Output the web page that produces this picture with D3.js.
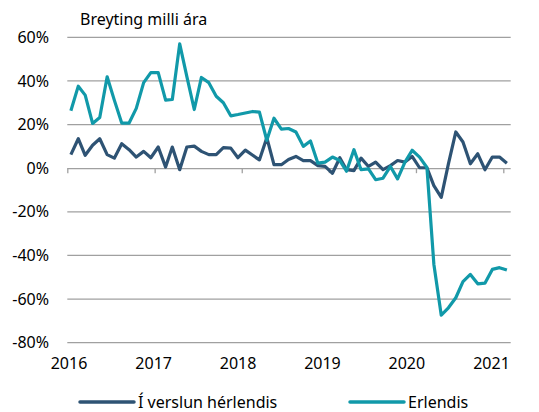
<!DOCTYPE html>
<html>
<head>
<meta charset="utf-8">
<script src="https://cdn.jsdelivr.net/npm/d3@7"></script>
<style>
  body { margin: 0; background: #fff; }
  svg { display: block; font-family: 'Noto Sans', 'Open Sans', sans-serif; }
</style>
</head>
<body>
<svg width="539" height="412"></svg>
<script>
// monthly, Jan 2016 - Jan 2021, year-on-year change in %
var startMonth = '2016-01';
var domestic = [
  6.2, 13.5, 5.9, 10.5, 13.5, 6.2, 4.6, 11.2, 8.5, 5.1, 7.7, 4.8,
  9.7, 0.5, 9.7, -0.7, 9.7, 10.1, 7.7, 6.2, 6.2, 9.4, 9.2, 4.8,
  8.3, 5.9, 3.8, 14.0, 1.6, 1.6, 4.0, 5.4, 3.5, 3.5, 1.2, 0.8,
  -2.3, 4.8, -0.7, -1.1, 4.6, 0.8, 2.8, -0.7, 1.2, 3.5, 2.8, 5.4,
  0.2, 0.2, -8.0, -13.4, 2.0, 16.6, 12.0, 2.0, 6.6, -0.7, 5.1, 5.1,
  2.3
];
var abroad = [
  26.3, 37.6, 33.5, 20.5, 23.2, 41.9, 31.2, 20.7, 20.7, 27.4, 39.2, 43.8,
  43.8, 31.2, 31.5, 57.0, 42.0, 26.9, 41.6, 39.2, 33.0, 30.0, 24.0, 24.6,
  25.3, 26.0, 25.7, 12.8, 22.9, 17.9, 18.2, 16.6, 10.0, 12.5, 2.3, 2.8,
  5.1, 3.5, -1.4, 8.5, -0.7, -0.3, -5.3, -4.6, 0.8, -4.9, 2.8, 8.2,
  5.1, 0.3, -44.0, -67.4, -64.0, -59.4, -52.0, -48.7, -53.0, -52.7, -46.4, -45.6,
  -46.7
];
var yTicks = [60, 40, 20, 0, -20, -40, -60, -80];
var yearLabels = ['2016', '2017', '2018', '2019', '2020', '2021'];
var seriesNames = ['Í verslun hérlendis', 'Erlendis'];
var colors = ['#2e5374', '#1199a9'];

var svg = d3.select('svg');
var parseMonth = d3.timeParse('%Y-%m-%d');
var first = parseMonth(startMonth + '-16');

function toPoints(values) {
  return values.map(function(v, i) {
    return { date: d3.timeMonth.offset(first, i), value: v };
  });
}

var x = d3.scaleTime()
  .domain([new Date(2016, 0, 1), new Date(2021, 0, 1)])
  .range([67.3, 503.3]);
var y = d3.scaleLinear().domain([-80, 60]).range([342.7, 37.3]);
// Excel squeezes the year labels a bit compared with the tick marks
var xLabel = d3.scaleTime()
  .domain([new Date(2016, 0, 1), new Date(2021, 0, 1)])
  .range([68.5, 491]);

var gridEnd = x(new Date(2021, 1, 1));

// gridlines
svg.append('g')
  .selectAll('line')
  .data(yTicks.filter(function(d) { return d !== 0; }))
  .enter().append('line')
  .attr('x1', x(new Date(2016, 0, 1)))
  .attr('x2', gridEnd)
  .attr('y1', function(d) { return y(d); })
  .attr('y2', function(d) { return y(d); })
  .attr('stroke', '#a0a0a0')
  .attr('stroke-width', 1.3);

// y axis labels
var yAxis = svg.append('g')
  .attr('transform', 'translate(49,0)')
  .call(d3.axisLeft(y).tickValues(yTicks).tickSize(0).tickPadding(0)
    .tickFormat(function(d) { return d + '%'; }));
yAxis.select('.domain').remove();
yAxis.selectAll('text')
  .attr('fill', '#000')
  .style('font-size', '16px')
  .style('font-family', "'Noto Sans', sans-serif");

// zero axis with year ticks
var xAxis = svg.append('g')
  .attr('transform', 'translate(0,' + y(0) + ')')
  .call(d3.axisBottom(x).ticks(d3.timeYear.every(1)).tickSize(5).tickFormat(''));
xAxis.select('.domain')
  .attr('d', 'M' + x(new Date(2016, 0, 1)) + ',0.5H' + gridEnd)
  .attr('stroke', '#a0a0a0')
  .attr('stroke-width', 1.3);
xAxis.selectAll('.tick line').attr('stroke', '#a0a0a0').attr('stroke-width', 1.3);

// year labels
var labelAxis = svg.append('g')
  .attr('transform', 'translate(0,358)')
  .call(d3.axisBottom(xLabel).ticks(d3.timeYear.every(1)).tickSize(0).tickPadding(0)
    .tickFormat(function(d, i) { return yearLabels[i]; }));
labelAxis.select('.domain').remove();
labelAxis.selectAll('text')
  .attr('fill', '#000')
  .attr('dy', '0.71em')
  .style('font-size', '16px')
  .style('font-family', "'Noto Sans', sans-serif");

// lines
var line = d3.line()
  .x(function(d) { return x(d.date); })
  .y(function(d) { return y(d.value); });

[domestic, abroad].forEach(function(values, i) {
  svg.append('path')
    .datum(toPoints(values))
    .attr('fill', 'none')
    .attr('stroke', colors[i])
    .attr('stroke-width', 3.2)
    .attr('stroke-linejoin', 'round')
    .attr('d', line);
});

// title
svg.append('text')
  .attr('x', 80)
  .attr('y', 25)
  .style('font-size', '16px')
  .text('Breyting milli ára');

// legend
var legendX = [80, 350];
var legend = svg.append('g').selectAll('g')
  .data(seriesNames)
  .enter().append('g')
  .attr('transform', function(d, i) { return 'translate(' + legendX[i] + ',402)'; });
legend.append('line')
  .attr('x1', 0).attr('x2', 54)
  .attr('stroke', function(d, i) { return colors[i]; })
  .attr('stroke-width', 3.5)
  .attr('stroke-linecap', 'round');
legend.append('text')
  .attr('x', 58)
  .attr('dy', '0.35em')
  .style('font-size', '16px')
  .text(function(d) { return d; });
</script>
</body>
</html>
